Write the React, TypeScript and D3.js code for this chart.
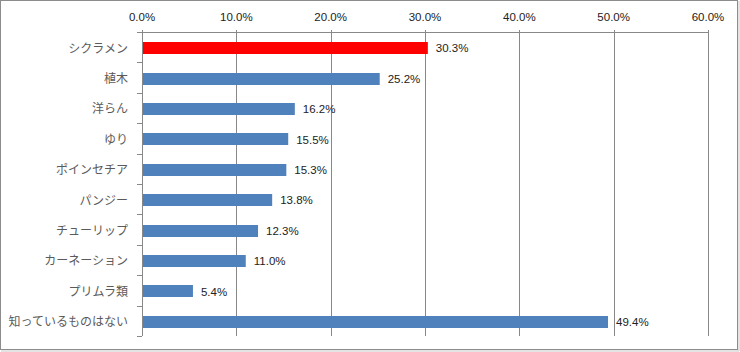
import { useRef, useEffect } from "react";
import * as d3 from "d3";

const categories = [
  "シクラメン",
  "植木",
  "洋らん",
  "ゆり",
  "ポインセチア",
  "パンジー",
  "チューリップ",
  "カーネーション",
  "プリムラ類",
  "知っているものはない",
];
const values = [30.3, 25.2, 16.2, 15.5, 15.3, 13.8, 12.3, 11.0, 5.4, 49.4];
const highlight = ["シクラメン"];
const xTicks = [0, 10, 20, 30, 40, 50, 60];

export default function App() {
  const svgRef = useRef<SVGSVGElement>(null);

  useEffect(() => {
    if (!svgRef.current) return;
    const width = 740;
    const height = 352;
    const margin = { top: 32, right: 32, bottom: 16, left: 142 };
    const innerWidth = 708 - margin.left;
    const innerHeight = 336 - margin.top;

    const svg = d3.select(svgRef.current);
    svg.selectAll("*").remove();
    svg.attr("width", width).attr("height", height);

    svg.append("rect").attr("width", width).attr("height", height).attr("fill", "#fff");

    // outer frame with a little shadow on the right/bottom
    svg.append("rect")
      .attr("x", 0.5).attr("y", 0.5).attr("width", 737).attr("height", 349)
      .attr("fill", "none").attr("stroke", "#8c8c8c");
    svg.append("line").attr("x1", 1).attr("x2", 739).attr("y1", 351).attr("y2", 351).attr("stroke", "#c8c8c8");
    svg.append("line").attr("x1", 739).attr("x2", 739).attr("y1", 1).attr("y2", 351).attr("stroke", "#c8c8c8");

    const g = svg.append("g").attr("transform", `translate(${margin.left},${margin.top})`);

    const x = d3.scaleLinear().domain([0, 60]).range([0, innerWidth]);
    const y = d3.scaleBand().domain(categories).range([0, innerHeight]).paddingInner(0).paddingOuter(0);

    // vertical gridlines
    g.selectAll(".grid")
      .data(xTicks)
      .join("line")
      .attr("class", "grid")
      .attr("x1", (d) => Math.round(x(d)) + 0.5)
      .attr("x2", (d) => Math.round(x(d)) + 0.5)
      .attr("y1", -2)
      .attr("y2", innerHeight)
      .attr("stroke", "#888")
      .attr("stroke-width", 1);

    // top axis line
    g.append("line")
      .attr("x1", 0).attr("x2", Math.round(x(60)) + 0.5)
      .attr("y1", 0.5).attr("y2", 0.5)
      .attr("stroke", "#888");

    // top tick labels
    g.selectAll(".xlab")
      .data(xTicks)
      .join("text")
      .attr("class", "xlab")
      .attr("x", (d) => x(d))
      .attr("y", -11)
      .attr("text-anchor", "middle")
      .style("font-family", "'Liberation Sans', Arial, sans-serif")
      .style("font-size", "11.5px")
      .style("fill", "#222")
      .text((d) => `${d.toFixed(1)}%`);

    // left axis with category boundary ticks
    const bounds = d3.range(categories.length + 1).map((i) => i * y.step());
    g.selectAll(".ytick")
      .data(bounds)
      .join("line")
      .attr("class", "ytick")
      .attr("x1", -5).attr("x2", 0)
      .attr("y1", (d) => Math.round(d) + 0.5)
      .attr("y2", (d) => Math.round(d) + 0.5)
      .attr("stroke", "#888");

    // bars
    const barH = 12;
    g.selectAll(".bar")
      .data(values)
      .join("rect")
      .attr("class", "bar")
      .attr("x", 1)
      .attr("y", (_, i) => Math.round(y(categories[i])! + y.bandwidth() / 2 + 1 - barH / 2))
      .attr("width", (d) => x(d) - 1)
      .attr("height", barH)
      .attr("fill", (_, i) => (highlight.includes(categories[i]) ? "#ff0000" : "#4f81bd"));

    // value labels
    g.selectAll(".val")
      .data(values)
      .join("text")
      .attr("class", "val")
      .attr("x", (d) => x(d) + 8)
      .attr("y", (_, i) => y(categories[i])! + y.bandwidth() / 2 + 1)
      .attr("dy", "0.36em")
      .style("font-family", "'Liberation Sans', Arial, sans-serif")
      .style("font-size", "11.5px")
      .style("fill", "#222")
      .text((d) => `${d.toFixed(1)}%`);

    // category labels
    g.selectAll(".cat")
      .data(categories)
      .join("text")
      .attr("class", "cat")
      .attr("x", -14)
      .attr("y", (d) => y(d)! + y.bandwidth() / 2 + 1)
      .attr("dy", "0.36em")
      .attr("text-anchor", "end")
      .style("font-family", "'Noto Sans CJK JP', sans-serif")
      .style("font-size", "12px")
      .style("fill", "#5a5a5a")
      .text((d) => d);
  }, []);

  return <svg ref={svgRef} style={{ position: "absolute", left: 0, top: 0 }} />;
}
